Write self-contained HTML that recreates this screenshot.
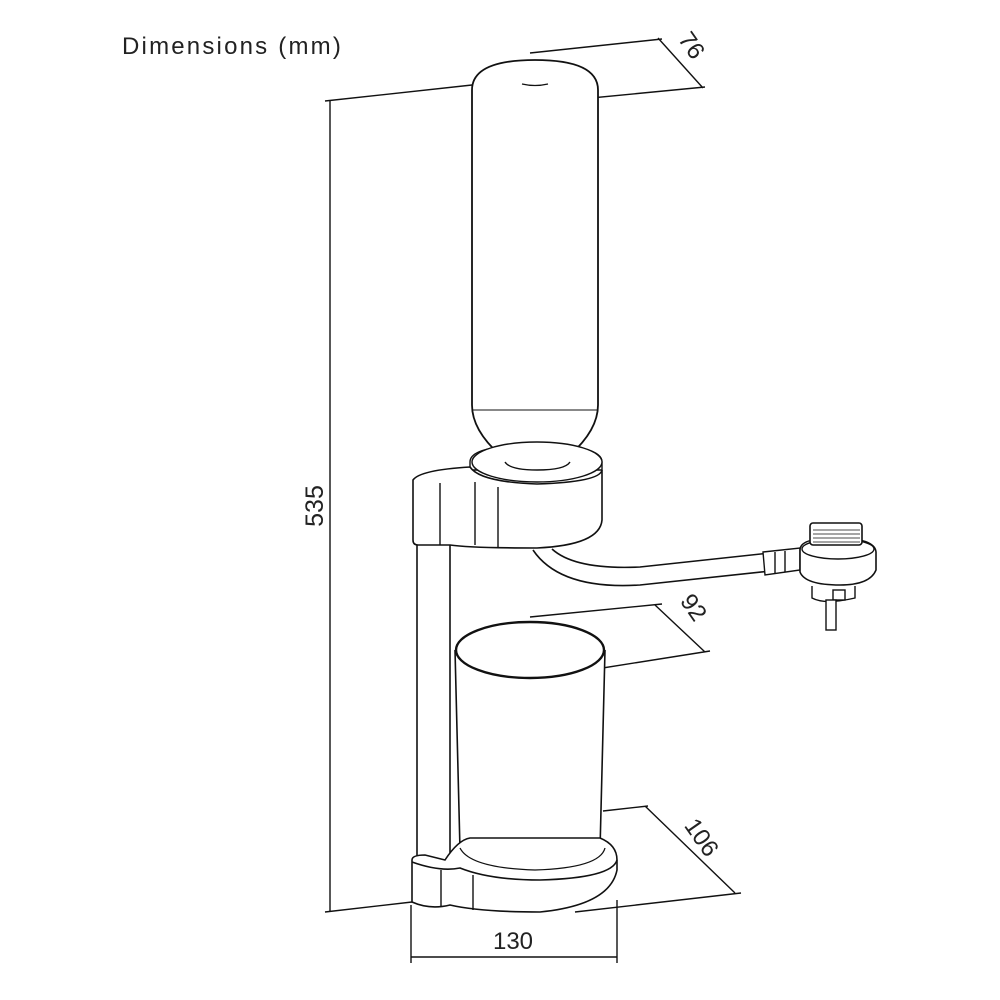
<!DOCTYPE html>
<html><head><style>
html,body{margin:0;padding:0;background:#fff;width:1000px;height:1000px;overflow:hidden}
svg{display:block}
text{font-family:"Liberation Sans",sans-serif;fill:#222}
</style></head><body>
<svg width="1000" height="1000" viewBox="0 0 1000 1000" fill="none" stroke="#111" stroke-width="1.4">
<text x="122" y="54" font-size="24" letter-spacing="2.2" stroke="none">Dimensions (mm)</text>
<!-- 535 dimension -->
<line x1="330" y1="100" x2="330" y2="912"/>
<line x1="325" y1="101" x2="472" y2="85"/>
<line x1="325" y1="912" x2="412" y2="902"/>
<text transform="translate(323,506) rotate(-90)" font-size="25" text-anchor="middle" stroke="none">535</text>
<!-- 76 -->
<line x1="530" y1="53" x2="662" y2="39"/>
<line x1="560" y1="101" x2="705" y2="87"/>
<line x1="658" y1="38" x2="703" y2="88"/>
<text transform="translate(685,50) rotate(55)" font-size="24" text-anchor="middle" stroke="none">76</text>
<!-- bottle -->
<path d="M472,90 Q472,60 535,60 Q598,60 598,90 L598,405 Q598,430 570,455 L560,465 L510,465 L500,455 Q472,430 472,405 Z" fill="#fff" stroke-width="1.8"/>
<line x1="472" y1="410" x2="598" y2="410" stroke-width="1"/>
<path d="M522,84 Q535,87 548,84" stroke-width="1.2"/>
<!-- head top ring -->
<path d="M470,462 Q470,445 537,445 Q602,445 602,462 L602,470 L470,470 Z" fill="#fff"/>
<ellipse cx="537" cy="462" rx="65" ry="20" fill="#fff"/>
<path d="M505,462 Q510,470 537,470 Q565,470 570,462" stroke-width="1.4"/>
<!-- head body -->
<path d="M413,480 Q420,470 470,467 Q480,482 537,484 Q600,482 602,470 L602,520 Q600,545 537,548 Q470,548 450,545 L418,545 Q413,545 413,540 Z" fill="#fff" stroke-width="1.6"/>
<line x1="440" y1="483" x2="440" y2="545"/>
<line x1="475" y1="482" x2="475" y2="545"/>
<line x1="498" y1="487" x2="498" y2="548"/>
<!-- pole -->
<line x1="417" y1="545" x2="417" y2="862" stroke-width="1.6"/>
<line x1="450" y1="545" x2="450" y2="862" stroke-width="1.6"/>
<!-- hose -->
<path d="M533,550 Q560,590 640,585 L780,570" stroke-width="1.6"/>
<path d="M552,549 Q575,570 640,567 L770,553" stroke-width="1.6"/>
<path d="M763,552 L800,548 L800,570 L765,575 Z" fill="#fff"/>
<line x1="775" y1="552" x2="775" y2="573"/><line x1="785" y1="551" x2="785" y2="572"/>
<!-- connector -->
<path d="M800,550 Q800,538 835,538 Q875,538 876,552 L876,570 Q870,585 840,585 Q805,585 800,572 Z" fill="#fff" stroke-width="1.6"/>
<ellipse cx="838" cy="549" rx="36" ry="10" fill="#fff"/>
<rect x="810" y="523" width="52" height="22" rx="3" fill="#fff" stroke-width="1.6"/>
<path d="M813,530H860M813,534H860M813,538H860M813,542H860" stroke-width="0.8"/>
<path d="M812,586 L812,598 Q825,605 855,598 L855,586" fill="#fff"/>
<rect x="833" y="590" width="12" height="10" fill="#fff"/>
<rect x="826" y="600" width="10" height="30" fill="#fff"/>
<!-- 92 -->
<line x1="530" y1="617" x2="662" y2="604"/>
<line x1="590" y1="670" x2="710" y2="651"/>
<line x1="655" y1="605" x2="705" y2="652"/>
<text transform="translate(687,612) rotate(55)" font-size="24" text-anchor="middle" stroke="none">92</text>
<!-- cup -->
<path d="M455,650 L460,850 L600,850 L605,650" fill="#fff" stroke-width="1.6"/>
<ellipse cx="530" cy="650" rx="74" ry="28" fill="#fff" stroke-width="2.4"/>
<!-- base -->
<path d="M412,860 Q412,855 425,855 L445,860 Q458,840 470,838 L600,838 Q617,845 617,860 L617,870 Q610,905 540,912 Q480,912 450,905 Q430,910 412,902 Z" fill="#fff" stroke-width="1.6"/>
<path d="M412,862 Q440,872 460,868 Q490,880 540,880 Q612,878 617,860" stroke-width="1.6"/>
<path d="M460,848 Q470,868 535,870 Q600,868 605,848" stroke-width="1.3"/>
<line x1="441" y1="870" x2="441" y2="907"/>
<line x1="473" y1="875" x2="473" y2="910"/>
<!-- 106 -->
<line x1="603" y1="811" x2="648" y2="806"/>
<line x1="645" y1="806" x2="735" y2="893"/>
<line x1="575" y1="912" x2="741" y2="893"/>
<text transform="translate(695,842) rotate(55)" font-size="24" text-anchor="middle" stroke="none">106</text>
<!-- 130 -->
<line x1="411" y1="905" x2="411" y2="963"/>
<line x1="617" y1="900" x2="617" y2="963"/>
<line x1="411" y1="957" x2="617" y2="957"/>
<text x="513" y="949" font-size="24" text-anchor="middle" stroke="none">130</text>
</svg>
</body></html>
